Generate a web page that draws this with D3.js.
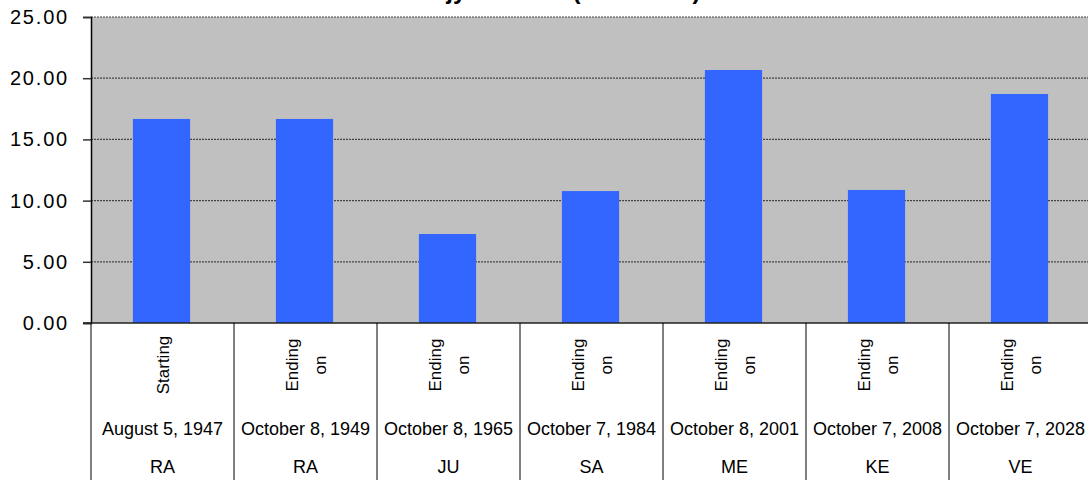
<!DOCTYPE html>
<html>
<head>
<meta charset="utf-8">
<script src="https://cdn.jsdelivr.net/npm/d3@7"></script>
<style>
  body { margin: 0; background: #fff; }
  svg { display: block; font-family: "Liberation Sans", Arial, sans-serif; }
</style>
</head>
<body>
<script>
// chart data
var categories = ['c1', 'c2', 'c3', 'c4', 'c5', 'c6', 'c7'];
var values = [16.67, 16.67, 7.27, 10.78, 20.67, 10.87, 18.71];
var rowLabel1 = [['Starting'], ['Ending', 'on'], ['Ending', 'on'], ['Ending', 'on'], ['Ending', 'on'], ['Ending', 'on'], ['Ending', 'on']];
var rowLabel2 = ['August 5, 1947', 'October 8, 1949', 'October 8, 1965', 'October 7, 1984', 'October 8, 2001', 'October 7, 2008', 'October 7, 2028'];
var rowLabel3 = ['RA', 'RA', 'JU', 'SA', 'ME', 'KE', 'VE'];
var yTicks = [0, 5, 10, 15, 20, 25];
var title = 'Rajyo Tenure (Durations)';

var drawChart = () => {
  const w = 1088, h = 480;
  const left = 91, right = 1092, top = 17, bottom = 323;

  var svg = d3.select('body').append('svg')
    .attr('width', w)
    .attr('height', h);

  var x = d3.scaleBand().domain(categories).range([left, right]).padding(0);
  var y = d3.scaleLinear().domain([0, 25]).range([bottom, top]);

  // plot background
  svg.append('rect')
    .attr('x', left).attr('y', top)
    .attr('width', right - left).attr('height', bottom - top)
    .attr('fill', '#c0c0c0');

  // gridlines
  svg.append('g').selectAll('line')
    .data(yTicks.filter(d => d > 0))
    .enter().append('line')
    .attr('x1', left).attr('x2', right)
    .attr('y1', d => y(d)).attr('y2', d => y(d))
    .attr('stroke', '#444')
    .attr('stroke-width', 1.2)
    .attr('stroke-dasharray', '2,1');

  // bars
  var bw = x.bandwidth() * 0.4;
  svg.append('g').selectAll('rect')
    .data(values)
    .enter().append('rect')
    .attr('x', (d, i) => x(categories[i]) + (x.bandwidth() - bw) / 2 - 1)
    .attr('y', d => y(d))
    .attr('width', bw)
    .attr('height', d => y(0) - y(d))
    .attr('fill', '#3366ff');

  // y axis
  var yAxis = d3.axisLeft(y)
    .tickValues(yTicks)
    .tickFormat(d3.format('.2f'))
    .tickSize(8)
    .tickPadding(14);
  var ga = svg.append('g')
    .attr('transform', 'translate(' + left + ',0)')
    .call(yAxis);
  ga.select('.domain').attr('stroke', '#000').attr('stroke-width', 1.5);
  ga.selectAll('.tick line').attr('stroke', '#333').attr('stroke-width', 1.5);
  ga.selectAll('.tick text')
    .attr('font-size', 20)
    .attr('letter-spacing', 1.8)
    .attr('font-family', '"Liberation Sans", Arial, sans-serif')
    .attr('fill', '#000');

  // baseline
  svg.append('line')
    .attr('x1', left - 8).attr('x2', right)
    .attr('y1', y(0)).attr('y2', y(0))
    .attr('stroke', '#222').attr('stroke-width', 1.5);

  // category table separators
  var bounds = categories.map(c => x(c)).concat([right]);
  svg.append('g').selectAll('line')
    .data(bounds)
    .enter().append('line')
    .attr('x1', d => d).attr('x2', d => d)
    .attr('y1', y(0)).attr('y2', h)
    .attr('stroke', '#000').attr('stroke-width', 1);

  // rotated labels
  var rot = svg.append('g');
  categories.forEach((c, i) => {
    var cx = x(c) + x.bandwidth() / 2;
    var lines = rowLabel1[i];
    lines.forEach((t, j) => {
      var off = (j - (lines.length - 1) / 2) * 28;
      var tx = cx + off + 6;
      rot.append('text')
        .attr('transform', 'translate(' + tx + ',365) rotate(-90)')
        .attr('text-anchor', 'middle')
        .attr('font-size', 17)
        .attr('fill', '#000')
        .text(t);
    });
  });

  // dates
  svg.append('g').selectAll('text')
    .data(rowLabel2)
    .enter().append('text')
    .attr('x', (d, i) => x(categories[i]) + x.bandwidth() / 2)
    .attr('y', 435)
    .attr('text-anchor', 'middle')
    .attr('font-size', 18)
    .attr('fill', '#000')
    .text(d => d);

  // names
  svg.append('g').selectAll('text')
    .data(rowLabel3)
    .enter().append('text')
    .attr('x', (d, i) => x(categories[i]) + x.bandwidth() / 2)
    .attr('y', 473)
    .attr('text-anchor', 'middle')
    .attr('font-size', 18)
    .attr('fill', '#000')
    .text(d => d);

  // title (cropped at the top, as in the source image)
  svg.append('text')
    .attr('x', 558).attr('y', -1)
    .attr('text-anchor', 'middle')
    .attr('font-size', 24)
    .attr('font-weight', 'bold')
    .attr('fill', '#000')
    .text(title);
};

drawChart();
</script>
</body>
</html>
